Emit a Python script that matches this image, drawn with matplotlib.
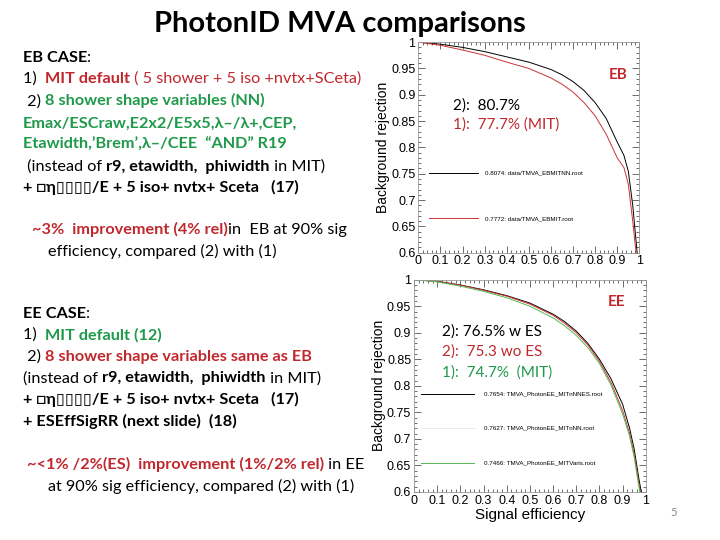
import numpy as np
import matplotlib
matplotlib.use('Agg')
import matplotlib.pyplot as plt
from matplotlib.ticker import MultipleLocator

plt.rcParams['font.family'] = ['Lato', 'DejaVu Sans']

# ROC curves (signal efficiency -> background rejection)
eb_eff = [0, 0.1, 0.2, 0.3, 0.4, 0.5, 0.6, 0.65, 0.7, 0.75, 0.8, 0.85, 0.9, 0.93, 0.95, 0.97, 0.98, 0.99]
eb_nn = [1.0, 0.996, 0.99, 0.982, 0.972, 0.962, 0.948, 0.938, 0.925, 0.908, 0.885, 0.855, 0.81, 0.785, 0.755, 0.69, 0.645, 0.60]
eb_mit = [1.0, 0.994, 0.985, 0.975, 0.962, 0.95, 0.932, 0.92, 0.905, 0.885, 0.86, 0.825, 0.78, 0.762, 0.73, 0.66, 0.62, 0.585]

ee_eff = [0, 0.1, 0.2, 0.3, 0.4, 0.5, 0.6, 0.65, 0.7, 0.75, 0.8, 0.85, 0.9, 0.93, 0.95, 0.97, 0.98]
ee_nnes = [1.0, 0.997, 0.99, 0.981, 0.97, 0.956, 0.935, 0.921, 0.903, 0.88, 0.85, 0.813, 0.765, 0.72, 0.68, 0.625, 0.60]
ee_nn = [1.0, 0.997, 0.99, 0.98, 0.969, 0.954, 0.933, 0.918, 0.90, 0.877, 0.846, 0.806, 0.753, 0.71, 0.67, 0.615, 0.59]
ee_mit = [1.0, 0.996, 0.988, 0.978, 0.966, 0.95, 0.928, 0.913, 0.895, 0.872, 0.842, 0.801, 0.747, 0.705, 0.665, 0.61, 0.585]

eb_labels = ['0.8074: data/TMVA_EBMITNN.root', '0.7772: data/TMVA_EBMIT.root']
ee_labels = ['0.7654: TMVA_PhotonEE_MITnNNES.root', '0.7627: TMVA_PhotonEE_MITnNN.root',
             '0.7466: TMVA_PhotonEE_MITVaris.root']

RED = '#c0282d'
GREEN = '#1f9a4a'
ROOTFONT = ['Liberation Sans', 'DejaVu Sans']

fig = plt.figure(figsize=(7.2, 5.4), dpi=100)
renderer = fig.canvas.get_renderer()


def rich_line(x, y, parts, size=11.7):
    # draw pieces of one line side by side, each with its own colour / weight
    px = x
    for txt, color, weight in parts:
        t = fig.text(px, y, txt, color=color, fontweight=weight, fontsize=size, va='baseline')
        bb = t.get_window_extent(renderer)
        px += bb.width / fig.bbox.width


def roc_axes(rect):
    ax = fig.add_axes(rect)
    ax.set_xlim(0, 1)
    ax.set_ylim(0.6, 1)
    ax.xaxis.set_major_locator(MultipleLocator(0.1))
    ax.xaxis.set_minor_locator(MultipleLocator(0.02))
    ax.yaxis.set_major_locator(MultipleLocator(0.05))
    ax.yaxis.set_minor_locator(MultipleLocator(0.01))
    ax.tick_params(which='both', direction='in', top=True, right=True, color='#555555', width=0.6)
    ax.tick_params(which='major', length=5, labelsize=9, pad=2)
    ax.tick_params(which='minor', length=2.5)
    ax.set_xticks(np.arange(0, 1.01, 0.1))
    ax.set_xticklabels(['0', '0.1', '0.2', '0.3', '0.4', '0.5', '0.6', '0.7', '0.8', '0.9', '1'])
    ax.set_yticks(np.arange(0.6, 1.001, 0.05))
    ax.set_yticklabels(['0.6', '0.65', '0.7', '0.75', '0.8', '0.85', '0.9', '0.95', '1'])
    for lab in ax.get_xticklabels() + ax.get_yticklabels():
        lab.set_family(ROOTFONT)
    for sp in ax.spines.values():
        sp.set_color('#999999')
        sp.set_linewidth(0.6)
    ax.set_ylabel('Background rejection', fontsize=10, family=ROOTFONT, labelpad=1)
    return ax


# ---- EB plot
ax1 = roc_axes([0.581, 0.532, 0.307, 0.390])
ax1.plot(eb_eff, eb_nn, color='black', lw=0.7)
ax1.plot(eb_eff, eb_mit, color='#cc3333', lw=0.7)
for yy, lab, c in zip([0.752, 0.665], eb_labels, ['black', '#cc3333']):
    ax1.plot([0.05, 0.27], [yy, yy], color=c, lw=0.7)
    ax1.text(0.3, yy, lab, fontsize=4.5, va='center', family=ROOTFONT)
ax1.text(0.86, 0.937, 'EB', color=RED, fontsize=11, fontweight='bold', va='center')
ax1.text(0.155, 0.88, '2):  80.7%', color='black', fontsize=11, va='center')
ax1.text(0.155, 0.843, '1):  77.7% (MIT)', color=RED, fontsize=11, va='center')

# ---- EE plot
ax2 = roc_axes([0.575, 0.089, 0.322, 0.393])
ax2.plot(ee_eff, ee_nnes, color='black', lw=0.7)
ax2.plot(ee_eff, ee_nn, color='#cc3333', lw=0.7)
ax2.plot(ee_eff, ee_mit, color='#55bb55', lw=0.7)
for yy, lab, c in zip([0.785, 0.72, 0.655], ee_labels, ['black', '#f2e6e6', '#55bb55']):
    ax2.plot([0.03, 0.26], [yy, yy], color=c, lw=0.7)
    ax2.text(0.3, yy, lab, fontsize=4.5, va='center', family=ROOTFONT)
ax2.text(0.836, 0.958, 'EE', color=RED, fontsize=11, fontweight='bold', va='center')
ax2.text(0.12, 0.902, '2): 76.5% w ES', color='black', fontsize=11, va='center')
ax2.text(0.12, 0.864, '2):  75.3 wo ES', color=RED, fontsize=11, va='center')
ax2.text(0.12, 0.825, '1):  74.7%  (MIT)', color=GREEN, fontsize=11, va='center')
ax2.set_xlabel('Signal efficiency', fontsize=11, family=ROOTFONT, labelpad=1)

# ---- slide text
fig.text(0.472, 0.955, 'PhotonID MVA comparisons', ha='center', va='center',
         fontsize=21, fontweight='bold')

box = '+ \u25a1\u03b7\u25af\u25af\u25af\u25af/E + 5 iso+ nvtx+ Sceta   (17)'
K = 'black'
rows = [
    (0.032, 0.886, [('EB CASE', K, 'bold'), (':', K, 'normal')]),
    (0.032, 0.846, [('1)  ', K, 'normal'), ('MIT default', RED, 'bold'),
                    (' ( 5 shower + 5 iso +nvtx+SCeta)', RED, 'normal')]),
    (0.032, 0.805, [(' 2) ', K, 'normal'), ('8 shower shape variables (NN)', GREEN, 'bold')]),
    (0.032, 0.764, [('Emax/ESCraw,E2x2/E5x5,\u03bb\u2013/\u03bb+,CEP,', GREEN, 'bold')]),
    (0.032, 0.724, [('Etawidth,\u2019Brem\u2019,\u03bb\u2013/CEE  \u201cAND\u201d R19', GREEN, 'bold')]),
    (0.032, 0.684, [(' (instead of ', K, 'normal'), ('r9, etawidth,  phiwidth', K, 'bold'),
                    (' in MIT)', K, 'normal')]),
    (0.032, 0.644, [(box, K, 'bold')]),
    (0.044, 0.566, [('~3%  improvement (4% rel)', RED, 'bold'), ('in  EB at 90% sig', K, 'normal')]),
    (0.066, 0.526, [('efficiency, compared (2) with (1)', K, 'normal')]),
    (0.032, 0.412, [('EE CASE', K, 'bold'), (':', K, 'normal')]),
    (0.032, 0.372, [('1)  ', K, 'normal'), ('MIT default (12)', GREEN, 'bold')]),
    (0.032, 0.332, [(' 2) ', K, 'normal'), ('8 shower shape variables same as EB', RED, 'bold')]),
    (0.032, 0.292, [('(instead of ', K, 'normal'), ('r9, etawidth,  phiwidth', K, 'bold'),
                    (' in MIT)', K, 'normal')]),
    (0.032, 0.252, [(box, K, 'bold')]),
    (0.032, 0.212, [('+ ESEffSigRR (next slide)  (18)', K, 'bold')]),
    (0.038, 0.131, [('~<1% /2%(ES)  improvement (1%/2% rel)', RED, 'bold'), (' in EE', K, 'normal')]),
    (0.066, 0.091, [('at 90% sig efficiency, compared (2) with (1)', K, 'normal')]),
]
for x, y, parts in rows:
    rich_line(x, y, parts)

fig.text(0.935, 0.045, '5', color='#888888', fontsize=8, ha='center')

fig.savefig('out.png', dpi=100)
